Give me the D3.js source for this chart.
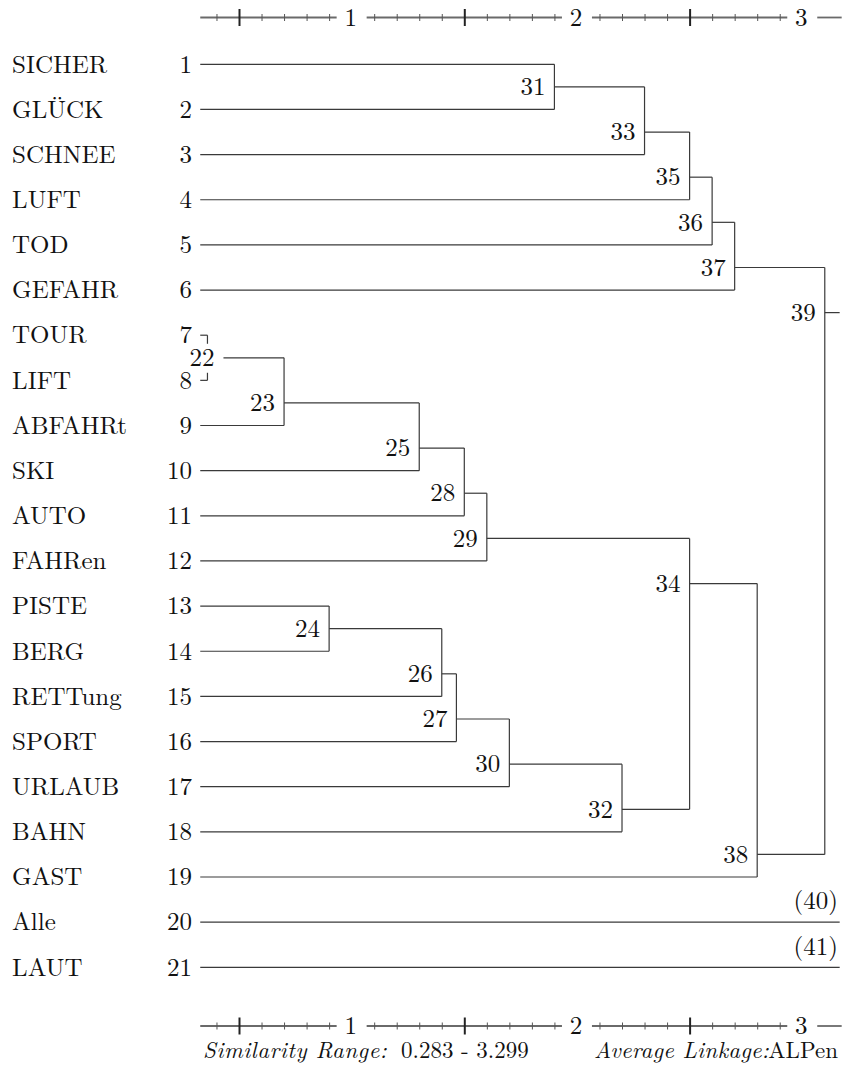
<!DOCTYPE html>
<html>
<head>
<meta charset="utf-8">
<script src="https://cdn.jsdelivr.net/npm/d3@7"></script>
<style>
  body { margin: 0; background: #fff; }
</style>
</head>
<body>
<div id="chart"></div>
<script>
// leaves, in row order
var leafNames = ["SICHER", "GLÜCK", "SCHNEE", "LUFT", "TOD", "GEFAHR", "TOUR", "LIFT",
    "ABFAHRt", "SKI", "AUTO", "FAHRen", "PISTE", "BERG", "RETTung", "SPORT", "URLAUB",
    "BAHN", "GAST", "Alle", "LAUT"];
// merges: id, left child, right child (<= 21 means a leaf), level on the similarity axis
var mergeIds    = [22, 23, 24, 25, 26, 27, 28, 29, 30, 31, 32, 33, 34, 35, 36, 37, 38, 39];
var mergeLeft   = [ 7, 22, 13, 23, 24, 26, 25, 28, 27,  1, 30, 31, 29, 33, 35, 36, 34, 37];
var mergeRight  = [ 8,  9, 14, 10, 15, 16, 11, 12, 17,  2, 18,  3, 32,  4,  5,  6, 19, 38];
var mergeLevels = [0.36, 0.70, 0.90, 1.30, 1.40, 1.465, 1.50, 1.60, 1.70, 1.90, 2.20, 2.30,
    2.50, 2.50, 2.60, 2.70, 2.80, 3.10];
// leaves that stay alone
var singleIds = [40, 41];
var singleLeaves = [20, 21];
// axis
var axisLabels = [1, 2, 3];
var majorTicks = [0.5, 1.5, 2.5];
var leafLevel = 0.328;
var axisEnd = 3.175;
var rangeText = "0.283 - 3.299";
var methodText = "ALPen";

var svgWidth = 843;
var svgHeight = 1065;
var fs = 25;
var font = '"Latin Modern Roman", "CMU Serif", "Liberation Serif", serif';

var svg = d3.select("#chart")
    .append("svg")
    .attr("width", svgWidth)
    .attr("height", svgHeight);

function txt(sel) {
    return sel.style("font-family", font).attr("fill", "#111");
}

var xScale = d3.scaleLinear()
    .domain([0, 3])
    .range([126.35, 802.25]);
var yScale = d3.scaleLinear()
    .domain([1, leafNames.length])
    .range([64.3, 967.3]);

// build node table
var nodes = {};
leafNames.forEach((name, i) => {
    nodes[i + 1] = { first: i + 1, last: i + 1, y: yScale(i + 1), level: leafLevel, leaf: true };
});
mergeIds.forEach((id, i) => {
    var a = nodes[mergeLeft[i]], b = nodes[mergeRight[i]];
    nodes[id] = {
        id: id, a: a, b: b, level: mergeLevels[i], leaf: false,
        first: a.first, last: b.last,
        y: yScale(b.first - 0.5)
    };
});

var lineColor = "#3a3a3a";
var tree = svg.append("g")
    .attr("stroke", lineColor)
    .attr("stroke-width", 1.2)
    .attr("fill", "none");

var dy = 0.33 * fs;

// leaf names and numbers
svg.selectAll(".leafName")
    .data(leafNames)
    .join("text")
    .attr("class", "leafName")
    .attr("x", 12)
    .attr("y", (d, i) => yScale(i + 1) + dy)
    .attr("font-size", fs)
    .call(txt)
    .text(d => d);
svg.selectAll(".leafNum")
    .data(leafNames)
    .join("text")
    .attr("class", "leafNum")
    .attr("x", 192)
    .attr("y", (d, i) => yScale(i + 1) + dy)
    .attr("font-size", fs)
    .attr("text-anchor", "end")
    .call(txt)
    .text((d, i) => i + 1);

// branches
mergeIds.forEach(id => {
    var n = nodes[id];
    var xn = xScale(n.level);
    [n.a, n.b].forEach(c => {
        tree.append("line")
            .attr("x1", xScale(c.level)).attr("x2", xn)
            .attr("y1", c.y).attr("y2", c.y);
    });
    tree.append("line")
        .attr("x1", xn).attr("x2", xn)
        .attr("y1", n.a.y).attr("y2", n.b.y);
});
// root stub to the right
var root = nodes[39];
tree.append("line")
    .attr("x1", xScale(root.level)).attr("x2", xScale(axisEnd) - 2)
    .attr("y1", root.y).attr("y2", root.y);

// lone leaves
singleLeaves.forEach((leaf, i) => {
    var y = yScale(leaf);
    tree.append("line")
        .attr("x1", xScale(leafLevel)).attr("x2", xScale(axisEnd) - 2)
        .attr("y1", y).attr("y2", y);
    svg.append("text")
        .attr("x", 838)
        .attr("y", y - 21 + dy)
        .attr("font-size", fs)
        .attr("text-anchor", "end")
        .call(txt)
        .text("(" + singleIds[i] + ")");
});

// node labels
var labels = svg.append("g");
mergeIds.forEach(id => {
    var n = nodes[id];
    var xn = xScale(n.level);
    var right = xn - 9;
    var crowded = right < 212;
    if (crowded) {
        right = xn + 7;
        labels.append("rect")
            .attr("x", right - 24).attr("y", n.y - 14)
            .attr("width", 33).attr("height", 29)
            .attr("fill", "#fff");
    }
    labels.append("text")
        .attr("x", right)
        .attr("y", n.y + dy)
        .attr("font-size", fs)
        .attr("text-anchor", "end")
        .call(txt)
        .text(id);
});

// similarity axes, top and bottom
var minorTicks = xScale.ticks(30).filter(v =>
    v > leafLevel && v < axisEnd &&
    !axisLabels.some(l => Math.abs(l - v) < 1e-6) &&
    !majorTicks.some(m => Math.abs(m - v) < 1e-6));

function drawAxis(y) {
    var g = svg.append("g").attr("transform", `translate(0, ${y})`);
    var stops = [leafLevel].concat(axisLabels, [axisEnd]);
    var gap = 15;
    for (var i = 0; i < stops.length - 1; i++) {
        var x1 = xScale(stops[i]) + (i === 0 ? 0 : gap);
        var x2 = xScale(stops[i + 1]) - (i === stops.length - 2 ? 0 : gap);
        g.append("line")
            .attr("x1", x1).attr("x2", x2)
            .attr("y1", 0).attr("y2", 0)
            .attr("stroke", "#6a6a6a")
            .attr("stroke-width", 1.8);
    }
    var minorAxis = d3.axisBottom(xScale)
        .tickValues(minorTicks)
        .tickSize(4)
        .tickFormat("");
    var ma = g.append("g").call(minorAxis);
    ma.select(".domain").remove();
    ma.selectAll(".tick line")
        .attr("y1", -3.5).attr("y2", 3.5)
        .attr("stroke", "#555")
        .attr("stroke-width", 1);
    var majorAxis = d3.axisBottom(xScale)
        .tickValues(majorTicks)
        .tickSize(8)
        .tickFormat("");
    var mj = g.append("g").call(majorAxis);
    mj.select(".domain").remove();
    mj.selectAll(".tick line")
        .attr("y1", -8.5).attr("y2", 8.5)
        .attr("stroke", "#222")
        .attr("stroke-width", 2);
    g.selectAll(".axisLabel")
        .data(axisLabels)
        .join("text")
        .attr("class", "axisLabel")
        .attr("x", d => xScale(d) - 1)
        .attr("y", dy)
        .attr("font-size", fs)
        .attr("text-anchor", "middle")
        .call(txt)
        .text(d => d);
}
drawAxis(17.5);
drawAxis(1026);

// footer
var ffs = 23;
var footY = 1058;
svg.append("text")
    .attr("x", 203).attr("y", footY)
    .attr("font-size", ffs)
    .attr("font-style", "italic")
    .attr("letter-spacing", 0.5)
    .call(txt)
    .text("Similarity Range:");
svg.append("text")
    .attr("x", 401).attr("y", footY)
    .attr("font-size", ffs)
    .call(txt)
    .text(rangeText);
svg.append("text")
    .attr("x", 838).attr("y", footY)
    .attr("font-size", ffs)
    .attr("text-anchor", "end")
    .call(txt)
    .text(methodText);
svg.append("text")
    .attr("x", 769).attr("y", footY)
    .attr("font-size", ffs)
    .attr("font-style", "italic")
    .attr("letter-spacing", 0.2)
    .attr("text-anchor", "end")
    .call(txt)
    .text("Average Linkage:");
</script>
</body>
</html>
